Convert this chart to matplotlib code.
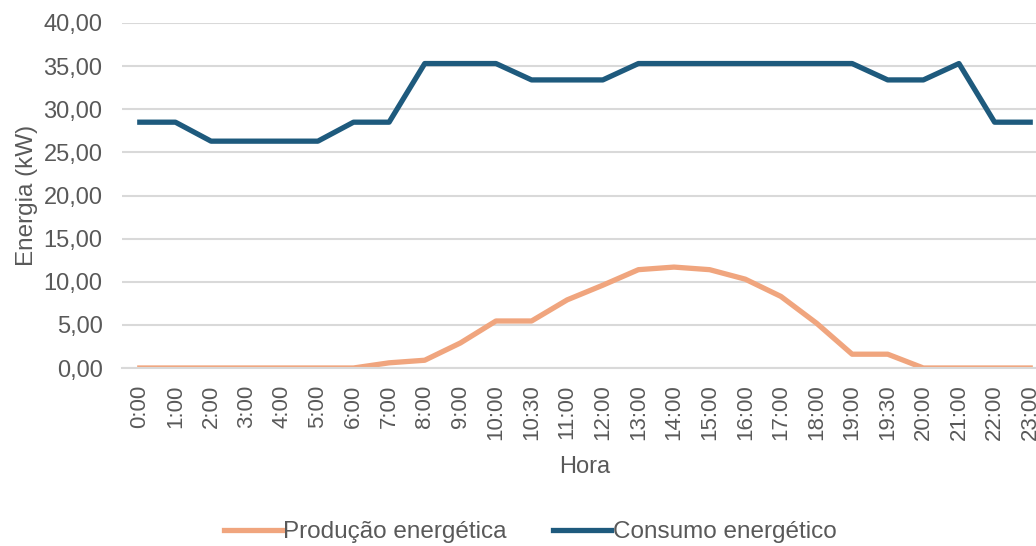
import matplotlib
matplotlib.use("Agg")
import matplotlib.pyplot as plt
from matplotlib.ticker import FuncFormatter

plt.rcParams['font.family'] = ['Liberation Sans', 'DejaVu Sans']

horas = ["0:00", "1:00", "2:00", "3:00", "4:00", "5:00", "6:00", "7:00", "8:00", "9:00",
         "10:00", "10:30", "11:00", "12:00", "13:00", "14:00", "15:00", "16:00", "17:00",
         "18:00", "19:00", "19:30", "20:00", "21:00", "22:00", "23:00"]
producao = [0, 0, 0, 0, 0, 0, 0, 0.6, 0.9, 2.9, 5.45, 5.45, 7.9, 9.6, 11.4, 11.7, 11.4,
            10.3, 8.3, 5.2, 1.6, 1.6, 0, 0, 0, 0]
consumo = [28.5, 28.5, 26.3, 26.3, 26.3, 26.3, 28.5, 28.5, 35.3, 35.3, 35.3, 33.4, 33.4,
           33.4, 35.3, 35.3, 35.3, 35.3, 35.3, 35.3, 35.3, 33.4, 33.4, 35.3, 28.5, 28.5]

grey = "#595959"
fig = plt.figure(figsize=(10.36, 5.46), dpi=100)
ax = fig.add_axes([122/1036, 1-368/546, 926/1036, 345/546])
x = list(range(len(horas)))
ax.plot(x, producao, color="#F0A57E", lw=3.8, solid_joinstyle="round", label="Produção energética")
ax.plot(x, consumo, color="#1E5A7D", lw=3.8, solid_joinstyle="round", label="Consumo energético")
ax.set_xlim(-0.5, len(horas) - 0.5)
ax.set_ylim(0, 40)
ax.set_yticks(range(0, 41, 5))
ax.yaxis.set_major_formatter(FuncFormatter(lambda v, p: f"{v:.2f}".replace(".", ",")))
ax.set_xticks(x)
ax.set_xticklabels(horas, rotation=90)
ax.grid(axis="y", color="#d9d9d9", lw=1.5)
ax.set_axisbelow(True)
for s in ["top", "right", "left"]:
    ax.spines[s].set_visible(False)
ax.spines["bottom"].set_color("#d9d9d9")
ax.spines["bottom"].set_linewidth(1.5)
ax.tick_params(axis="y", length=0, labelsize=17, colors=grey, pad=14)
ax.tick_params(axis="x", length=0, labelsize=16, colors=grey, pad=12)
ax.set_xlabel("Hora", fontsize=17, color=grey, labelpad=11)
ax.set_ylabel("Energia (kW)", fontsize=17.5, color=grey, labelpad=4)
fig.legend(loc="center", bbox_to_anchor=(530/1036, 1-532/546), ncol=2, frameon=False,
           fontsize=17.5, labelcolor=grey, handlelength=2.4, handletextpad=0.05, columnspacing=1.9)
fig.savefig("out.png", dpi=100)
